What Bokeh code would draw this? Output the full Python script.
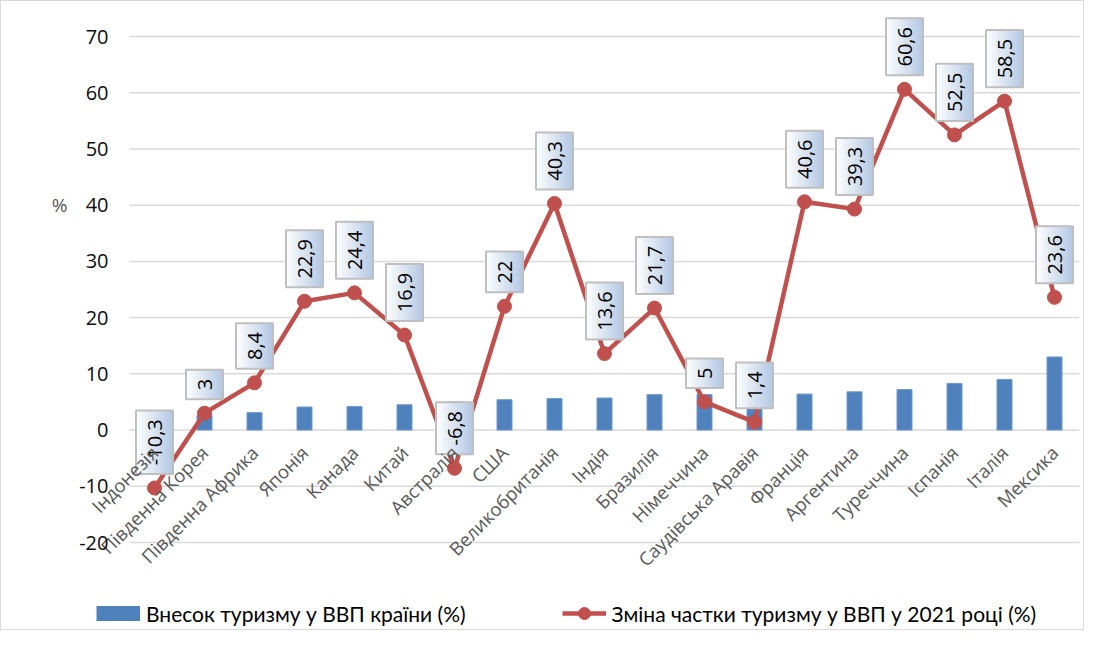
import math
from bokeh.plotting import figure
from bokeh.models import ColumnDataSource, Legend, LegendItem, Label, Range1d, FixedTicker
from bokeh.core.properties import value
from bokeh.embed import file_html
from bokeh.resources import INLINE

countries = ["Індонезія", "Південна Корея", "Південна Африка", "Японія", "Канада", "Китай",
             "Австралія", "США", "Великобританія", "Індія", "Бразилія", "Німеччина",
             "Саудівська Аравія", "Франція", "Аргентина", "Туреччина", "Іспанія", "Італія", "Мексика"]
share = [2.2, 2.6, 3.1, 4.1, 4.2, 4.5, 5.0, 5.4, 5.6, 5.7, 6.3, 6.3, 6.4, 6.4, 6.8, 7.2, 8.3, 9.0, 13.0]
change = [-10.3, 3, 8.4, 22.9, 24.4, 16.9, -6.8, 22, 40.3, 13.6, 21.7, 5, 1.4, 40.6, 39.3, 60.6, 52.5, 58.5, 23.6]
y_ticks = [-20, -10, 0, 10, 20, 30, 40, 50, 60, 70]
bar_name = "Внесок туризму у ВВП країни (%)"
line_name = "Зміна частки туризму у ВВП у 2021 році (%)"

BAR_COLOR = "#4f81bd"
LINE_COLOR = "#c0504d"

# layout (pixels)
W, H = 1084, 630          # canvas (whole canvas is the frame)
PL, PT = 128, 35          # plot area offset inside canvas
PW, PH = 950, 506         # plot area size
YMIN, YMAX = -20, 70
n = len(countries)
PX = PW / n
PY = PH / (YMAX - YMIN)
xs = list(range(n))

x0 = -0.5 - PL / PX
x1 = n - 0.5 + (W - PL - PW) / PX
y1 = YMAX + PT / PY
y0 = YMIN - (H - PT - PH) / PY

p = figure(width=W, height=H, x_range=Range1d(x0, x1), y_range=Range1d(y0, y1),
           output_backend="svg", toolbar_location=None, min_border=0)
p.styles = {"border": "1px solid #d9d9d9"}
p.outline_line_color = None
p.background_fill_color = "white"
p.xgrid.visible = False
p.ygrid.visible = False

# gridlines over the plot area only
p.segment(x0=[-0.5] * len(y_ticks), x1=[n - 0.5] * len(y_ticks), y0=y_ticks, y1=y_ticks,
          line_color="#d9d9d9", line_width=1.5)

# y axis
p.yaxis.fixed_location = -0.5
p.yaxis.ticker = FixedTicker(ticks=y_ticks)
p.yaxis.major_label_overrides = {t: str(t) for t in y_ticks}
p.yaxis.axis_line_color = None
p.yaxis.major_tick_line_color = None
p.yaxis.minor_tick_line_color = None
p.yaxis.major_tick_in = 0
p.yaxis.major_tick_out = 0
p.yaxis.major_label_standoff = 21
p.yaxis.major_label_text_font = "Open Sans"
p.yaxis.major_label_text_font_size = "20px"
p.yaxis.major_label_text_color = "#0d0d0d"

# x axis (category names) on the zero line
p.xaxis.fixed_location = 0
p.xaxis.ticker = FixedTicker(ticks=xs)
p.xaxis.major_label_overrides = {i: c for i, c in zip(xs, countries)}
p.xaxis.major_label_orientation = math.pi / 4
p.xaxis.axis_line_color = None
p.xaxis.major_tick_line_color = None
p.xaxis.minor_tick_line_color = None
p.xaxis.major_tick_in = 0
p.xaxis.major_tick_out = 0
p.xaxis.major_label_standoff = 19
p.xaxis.major_label_text_font = "Open Sans"
p.xaxis.major_label_text_font_size = "18.5px"
p.xaxis.major_label_text_color = "#595959"

src = ColumnDataSource(dict(x=xs, share=share, change=change))
bars = p.vbar(x="x", top="share", width=0.3, source=src, fill_color=BAR_COLOR,
              line_color="#6f99cc", line_width=1)
line = p.line(x="x", y="change", source=src, line_color=LINE_COLOR, line_width=4.5)
pts = p.scatter(x="x", y="change", source=src, size=14, fill_color=LINE_COLOR, line_color=LINE_COLOR)

# legend proxy for the bar series (flat wide swatch); a single point draws nothing on the plot
bar_key = p.line(x=[0], y=[0], line_color=BAR_COLOR, line_width=15, line_cap="butt")

# data labels with gradient boxes
cw = {",": 4.9, "-": 6.4}
def text_w(t):
    return sum(cw.get(c, 11.4) for c in t)

labels = [f"{v:g}".replace(".", ",") for v in change]
BW = 37
NS = 12
c0 = (255, 255, 255)
c1 = (180, 200, 227)
gx, gy, gw, gh, gc = [], [], [], [], []
bx, byy, bh = [], [], []
for i, (v, t) in enumerate(zip(change, labels)):
    h = text_w(t) + 18
    yc = v + (14 + h / 2) / PY
    bx.append(i); byy.append(yc); bh.append(h)
    for k in range(NS):
        f = (k + 0.5) / NS
        col = "#%02x%02x%02x" % tuple(int(round(a + (b - a) * f)) for a, b in zip(c0, c1))
        gx.append(i + (-BW / 2 + (k + 0.5) * BW / NS) / PX)
        gy.append(yc); gw.append(BW / NS + 0.6); gh.append(h); gc.append(col)
p.rect(x=gx, y=gy, width=gw, height=gh, width_units="screen", height_units="screen",
       fill_color=gc, line_color=None)
p.rect(x=bx, y=byy, width=BW, height=bh, width_units="screen", height_units="screen",
       fill_color=None, line_color="#bfbfbf", line_width=2)
p.text(x=bx, y=byy, text=labels, angle=math.pi / 2, text_align="center", text_baseline="middle",
       text_font=value("Open Sans"), text_font_size="20px", text_color="#000000")

p.add_layout(Label(x=-0.5, y=40, x_offset=-70, text="%", text_align="center", text_baseline="middle",
                   text_font="Open Sans", text_font_size="19px", text_color="#595959"))

legend = Legend(items=[LegendItem(label=bar_name, renderers=[bar_key]),
                       LegendItem(label=line_name, renderers=[line, pts])],
                orientation="horizontal", location=(95, 3), padding=0, spacing=96,
                glyph_width=44, glyph_height=30, label_standoff=6, label_height=30,
                label_text_font="Lato", label_text_font_size="21px", label_text_color="#000000",
                border_line_color=None, background_fill_alpha=0)
p.add_layout(legend, "center")

open("out.html", "w").write(file_html(p, INLINE))
